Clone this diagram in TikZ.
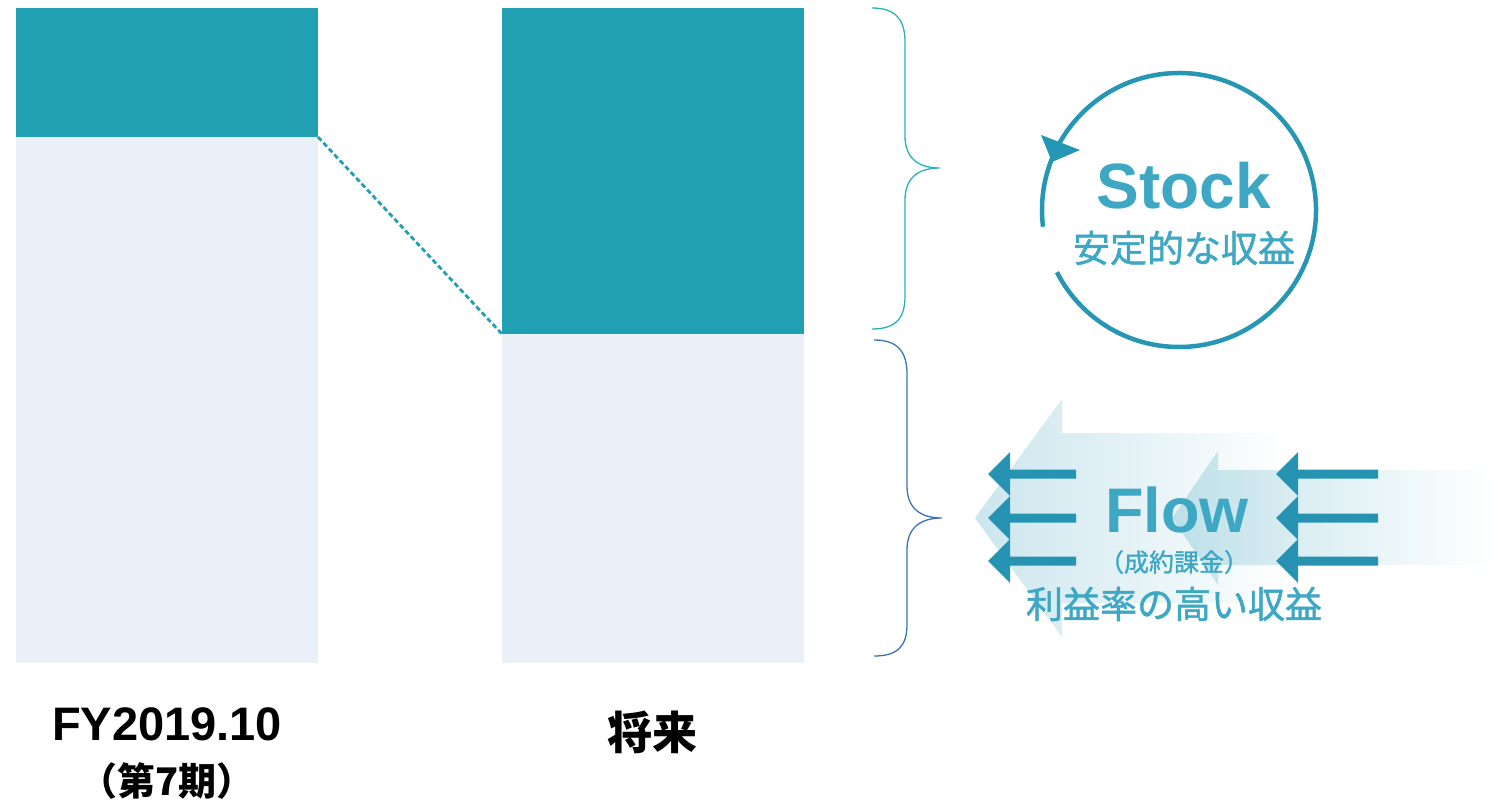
\documentclass[tikz,border=0pt]{standalone}
\usepackage{fontspec}
\setmainfont{Liberation Sans}
\newfontfamily\cjk{Noto Sans CJK JP}
\newfontfamily\cjkm[FakeBold=1.3]{Noto Sans CJK JP}
\definecolor{barteal}{HTML}{21A0B2}
\definecolor{barlight}{HTML}{EAF0F7}
\definecolor{bracetop}{HTML}{2AB2B7}
\definecolor{bracebot}{HTML}{3C72B8}
\definecolor{ringc}{HTML}{2596B3}
\definecolor{txtc}{HTML}{3EA8C4}
\definecolor{arrowA}{HTML}{CBE6ED}
\definecolor{arrowB}{HTML}{AED8E3}
\definecolor{sarrowc}{HTML}{2693B2}
\tikzset{
  bar/.style={fill=barteal},
  lightbar/.style={fill=barlight},
  bracepath/.style={line width=1.3pt},
  lbl/.style={inner sep=0pt, text=black},
  bigtxt/.style={inner sep=0pt, text=txtc, font=\bfseries\fontsize{64}{70}\selectfont},
  jtxt/.style={inner sep=0pt, text=txtc},
  sarrow/.style={fill=sarrowc},
}
\newcommand{\smallarrow}[3]{% tip x, y, shaft end x
  \fill[sarrow] (#1,#2) -- (#1+22,#2-22) -- (#1+22,#2-4.5) -- (#3,#2-4.5) -- (#3,#2+4.5) -- (#1+22,#2+4.5) -- (#1+22,#2+22) -- cycle;}
\begin{document}
\begin{tikzpicture}[x=1pt,y=-1pt]
\useasboundingbox (0,0) rectangle (1494,803);
% bars
\fill[lightbar] (16,137) rectangle (318,663);
\fill[bar] (16,8) rectangle (318,137);
\fill[lightbar] (502,334) rectangle (804,663);
\fill[bar] (502,8) rectangle (804,334);
\coordinate (a1) at (318,137);
\coordinate (a2) at (502,334);
\draw[barteal, line width=2.8pt, dash pattern=on 5pt off 3pt] (a1) -- (a2);
% braces
\draw[bracetop, bracepath] (872,8) .. controls (896,8) and (905,20) .. (905,42) -- (905,136)
  .. controls (905,158) and (918,168) .. (940,168)
  .. controls (918,168) and (905,178) .. (905,200) -- (905,296)
  .. controls (905,318) and (896,329) .. (872,329);
\draw[bracebot, bracepath] (874,340) .. controls (898,340) and (907,352) .. (907,374) -- (907,486)
  .. controls (907,508) and (920,518) .. (942,518)
  .. controls (920,518) and (907,528) .. (907,550) -- (907,624)
  .. controls (907,646) and (898,656) .. (874,656);
% ring
\coordinate (rc) at (1179,210);
\draw[ringc, line width=4.5pt] (rc) ++(173:137) arc[start angle=173, end angle=513, radius=137];
\fill[ringc] (1041,135) -- (1080,150) -- (1052,162) -- cycle;
\node[bigtxt, anchor=base] (stock) at (1184,208) {Stock};
\node[jtxt, font=\cjkm\fontsize{37}{40}\selectfont] (stockj) at (1184,248) {安定的な収益};
% flow big arrows
\shade[left color=arrowA, right color=white] (975,518) -- (1062,399) -- (1062,433) -- (1290,433) -- (1290,603) -- (1062,603) -- (1062,637) -- cycle;
\shade[left color=arrowB, right color=white, fill opacity=0.75] (1172,518) -- (1218,451) -- (1218,470) -- (1494,470) -- (1494,565) -- (1218,565) -- (1218,585) -- cycle;
% small arrows
\foreach \yy in {474,518,561} {
  \smallarrow{988}{\yy}{1076}
  \smallarrow{1276}{\yy}{1378}
}
\node[bigtxt, anchor=base, font=\bfseries\fontsize{63}{70}\selectfont] (flow) at (1177,532) {Flow};
\node[jtxt, font=\cjkm\fontsize{25}{28}\selectfont] (flowsub) at (1174,562) {（成約課金）};
\node[jtxt, font=\cjkm\fontsize{37}{40}\selectfont] (flowj) at (1174,604) {利益率の高い収益};
% bottom labels
\node[lbl, anchor=base, font=\bfseries\fontsize{47}{50}\selectfont] (fy) at (167,740) {FY2019.10};
\node[lbl, font=\cjk\bfseries\fontsize{38}{40}\selectfont] (ki) at (167,781) {（第7期）};
\node[lbl, font=\cjk\bfseries\fontsize{45}{48}\selectfont] (future) at (652,732) {将来};
\end{tikzpicture}
\end{document}
